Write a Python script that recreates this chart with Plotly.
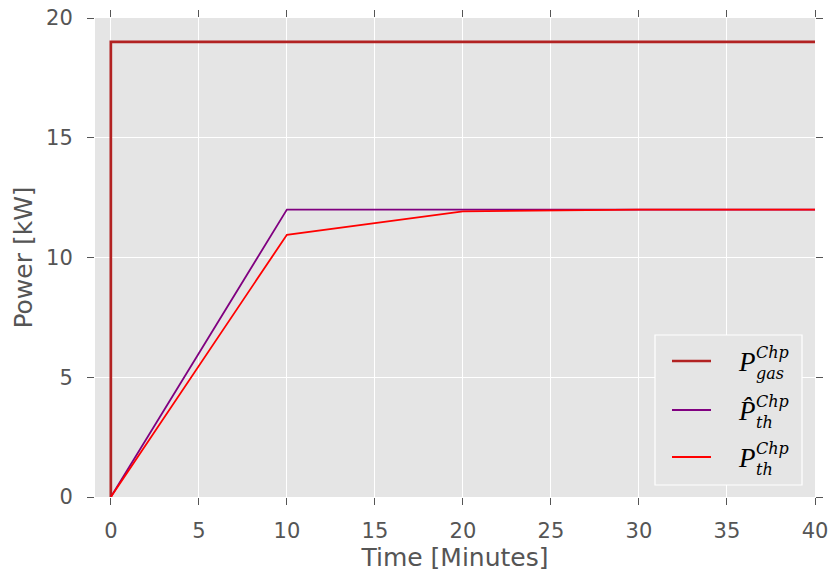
import plotly.graph_objects as go

# ---- data ----
time_min = [0, 0, 10, 20, 30, 40]
p_gas_chp = [0, 19, 19, 19, 19, 19]
p_th_hat_chp = [0, 0, 12, 12, 12, 12]
p_th_chp = [0, 0, 10.95, 11.93, 12.0, 12.0]

x_ticks = [0, 5, 10, 15, 20, 25, 30, 35, 40]
y_ticks = [0, 5, 10, 15, 20]

W, H = 830, 574
L, R, T, B = 95, 15, 18, 77
PW, PH = W - L - R, H - T - B

def px(x):
    return (x - L) / PW

def py(y):
    return (H - B - y) / PH

fig = go.Figure()
fig.add_trace(go.Scatter(x=time_min, y=p_gas_chp, mode="lines",
                         line=dict(color="#B22222", width=2.7), showlegend=False))
fig.add_trace(go.Scatter(x=time_min, y=p_th_hat_chp, mode="lines",
                         line=dict(color="#800080", width=1.8), showlegend=False))
fig.add_trace(go.Scatter(x=time_min, y=p_th_chp, mode="lines",
                         line=dict(color="#FF0000", width=1.8), showlegend=False))

tickfont = dict(family="DejaVu Sans", size=21, color="#555555")
titlefont = dict(family="DejaVu Sans", size=25, color="#555555")

fig.update_xaxes(range=[-0.9, 40], tickvals=x_ticks, ticks="outside", ticklen=7,
                 tickcolor="#555555", mirror="ticks", showline=False, automargin=False,
                 gridcolor="white", gridwidth=1, zeroline=False, ticklabelstandoff=8,
                 tickfont=tickfont, title=dict(text="Time [Minutes]", font=titlefont, standoff=5))
fig.update_yaxes(range=[0, 20], tickvals=y_ticks, ticks="outside", ticklen=7,
                 tickcolor="#555555", mirror="ticks", showline=False, automargin=False,
                 gridcolor="white", gridwidth=1, zeroline=False, ticklabelstandoff=10,
                 tickfont=tickfont, title=dict(text="Power [kW]", font=titlefont, standoff=6))

# ---- custom legend ----
shapes = [dict(type="rect", xref="paper", yref="paper",
               x0=px(655), x1=px(802), y0=py(485), y1=py(335),
               line=dict(color="white", width=1.2), fillcolor="#E5E5E5", layer="above")]
legend_items = [("#B22222", 2.7, 361, "P", "gas"),
                ("#800080", 1.8, 410, "P\u0302", "th"),
                ("#FF0000", 1.8, 457, "P", "th")]
annotations = []
for color, w, yc, main, sub in legend_items:
    shapes.append(dict(type="line", xref="paper", yref="paper",
                       x0=px(672), x1=px(711), y0=py(yc), y1=py(yc),
                       line=dict(color=color, width=w), layer="above"))
    annotations.append(dict(xref="paper", yref="paper", x=px(736), y=py(yc + 1),
                            xanchor="left", yanchor="middle", showarrow=False,
                            text="<i>%s</i>" % main,
                            font=dict(family="Liberation Serif", size=27, color="black")))
    annotations.append(dict(xref="paper", yref="paper", x=px(754), y=py(yc + 2),
                            xanchor="left", yanchor="middle", align="left",
                            showarrow=False,
                            text="<i>Chp</i><br><i>%s</i>" % sub,
                            font=dict(family="DejaVu Serif", size=16, color="black")))

fig.update_layout(width=W, height=H, margin=dict(l=L, r=R, t=T, b=B),
                  plot_bgcolor="#E5E5E5", paper_bgcolor="white",
                  shapes=shapes, annotations=annotations, showlegend=False)

fig.write_html("out.html")
